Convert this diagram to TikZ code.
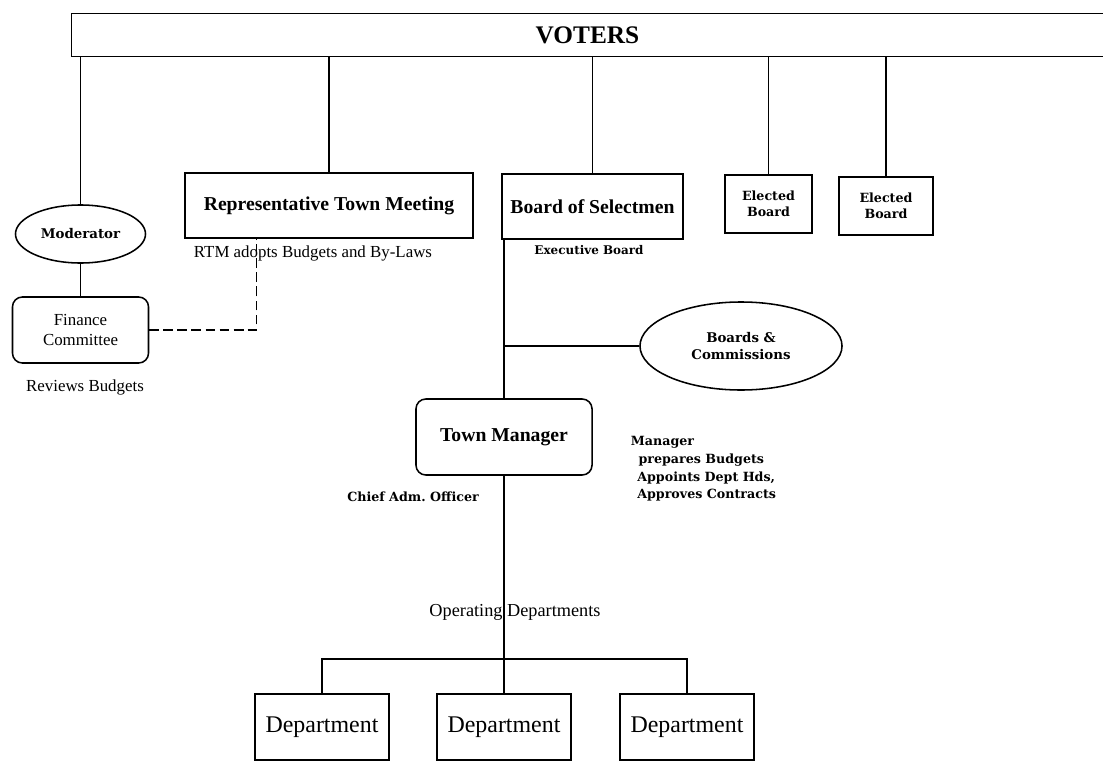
\documentclass[tikz,border=0pt]{standalone}
\usepackage{fontspec}
\setmainfont{Liberation Serif}
\newfontfamily\tagfont{DejaVu Serif}
\usetikzlibrary{shapes.geometric, calc}

\begin{document}
\begin{tikzpicture}[
    x=0.025cm, y=-0.025cm,
    box/.style={draw, line width=1.1pt, inner sep=2pt, align=center},
    rbox/.style={box, rounded corners=7pt},
    oval/.style={draw, ellipse, line width=1.1pt, inner sep=0pt, align=center},
    big/.style={font=\fontsize{14}{16}\selectfont\bfseries},
    tag/.style={font=\tagfont\bfseries\fontsize{9}{11}\selectfont},
    note/.style={font=\fontsize{12}{14}\selectfont},
    link/.style={line width=1.1pt},
    dashlink/.style={line width=0.8pt, dash pattern=on 7pt off 3pt}
  ]
  \useasboundingbox (0,0) rectangle (1103,762);
  % voters banner, open on the right
  \node[minimum width=25.775cm, minimum height=1.05cm,
    font=\fontsize{18}{20}\selectfont\bfseries] (voters) at (587.5,35) {VOTERS};
  \draw[link] (voters.north east) -- (voters.north west) -- (voters.south west) -- (voters.south east);
  % elected bodies
  \node[oval, tag, font=\tagfont\bfseries\fontsize{9.5}{11}\selectfont,
    minimum width=3.25cm, minimum height=1.45cm] (mod) at (80.5,234) {Moderator};
  \node[rbox, note, minimum width=3.4cm, minimum height=1.65cm] (fin) at (80.5,330) {Finance\\Committee};
  \node[box, big, minimum width=7.2cm, minimum height=1.625cm] (rtm) at (329,205.5) {Representative Town Meeting};
  \node[box, big, minimum width=4.525cm, minimum height=1.625cm] (bos) at (592.5,206.5) {Board of Selectmen};
  \node[box, tag, minimum width=2.175cm, minimum height=1.45cm] (eba) at (768.5,204) {Elected\\Board};
  \node[box, tag, minimum width=2.35cm, minimum height=1.45cm] (ebb) at (886,206) {Elected\\Board};
  % appointed
  \node[oval, tag, font=\tagfont\bfseries\fontsize{9.5}{12}\selectfont,
    minimum width=5.05cm, minimum height=2.2cm] (boc) at (741,346) {Boards \&\\Commissions};
  \node[rbox, big, minimum width=4.4cm, minimum height=1.9cm] (tm) at (504,437) {Town Manager};
  \foreach \n/\x in {depa/322, depb/504, depc/687}
    \node[box, font=\fontsize{17}{19}\selectfont, minimum width=3.35cm, minimum height=1.65cm] (\n) at (\x,727) {Department};
  % notes
  \node[note] (rtmnote) at (313,253) {RTM adopts Budgets and By-Laws};
  \node[tag, font=\tagfont\bfseries\fontsize{8.5}{10}\selectfont] (execnote) at (589,250) {Executive Board};
  \node[note] (reviews) at (85,387) {Reviews Budgets};
  \node[tag] (chief) at (413,497) {Chief Adm.\ Officer};
  \node[tag, font=\tagfont\bfseries\fontsize{9}{12.5}\selectfont, align=left, anchor=west] (mgrnote) at (626,469)
    {Manager\\\hspace*{0.6em}prepares Budgets\\\hspace*{0.5em}Appoints Dept Hds,\\\hspace*{0.5em}Approves Contracts};
  \node[font=\fontsize{13}{15}\selectfont] (opdeps) at (515,612) {Operating Departments};
  % connectors
  \foreach \n in {mod, rtm, bos, eba, ebb}
    \draw[link] (\n.north) -- (\n.north |- voters.south);
  \draw[link] (mod.south) -- (fin.north);
  \draw[dashlink] (fin.east) -| ($(rtm.south west)+(72,0)$);
  \draw[link] (tm.north) -- (tm.north |- bos.south);
  \draw[link] (boc.west) -- (boc.west -| tm.north);
  \coordinate (split) at (504,659);
  \draw[link] (tm.south) -- (split);
  \draw[link] (depa.north) |- (split) -| (depc.north);
  \draw[link] (split) -- (depb.north);
\end{tikzpicture}
\end{document}
